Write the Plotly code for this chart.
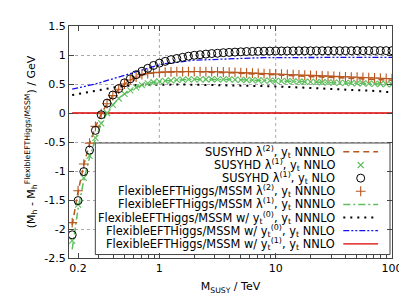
import plotly.graph_objects as go

# ---------------- data ----------------
msusy = [0.178, 0.200, 0.224, 0.251, 0.282, 0.316, 0.355, 0.398, 0.447, 0.501,
         0.562, 0.631, 0.708, 0.794, 0.891, 1.000, 1.122, 1.259, 1.413, 1.585,
         1.778, 1.995, 2.239, 2.512, 2.818, 3.162, 3.548, 3.981, 4.467, 5.012,
         5.623, 6.310, 7.079, 7.943, 8.913, 10.00, 11.22, 12.59, 14.13, 15.85,
         17.78, 19.95, 22.39, 25.12, 28.18, 31.62, 35.48, 39.81, 44.67, 50.12,
         56.23, 63.10, 70.79, 79.43, 89.13, 100.0]

susyhd_l2_nnnlo = [-1.93, -1.36, -0.89, -0.53, -0.24, -0.02, 0.16, 0.30, 0.41, 0.50,
                   0.57, 0.62, 0.66, 0.68, 0.695, 0.70, 0.705, 0.71, 0.712, 0.713,
                   0.713, 0.712, 0.71, 0.708, 0.705, 0.702, 0.698, 0.694, 0.69, 0.685,
                   0.68, 0.675, 0.67, 0.665, 0.66, 0.655, 0.65, 0.645, 0.64, 0.635,
                   0.63, 0.625, 0.62, 0.615, 0.61, 0.605, 0.60, 0.596, 0.592, 0.588,
                   0.584, 0.58, 0.576, 0.572, 0.568, 0.565]

susyhd_l1_nnlo = [-2.20, -1.58, -1.12, -0.74, -0.43, -0.18, 0.00, 0.14, 0.25, 0.33,
                  0.39, 0.44, 0.48, 0.51, 0.53, 0.545, 0.555, 0.563, 0.57, 0.575,
                  0.578, 0.58, 0.581, 0.582, 0.582, 0.581, 0.58, 0.578, 0.575, 0.572,
                  0.569, 0.566, 0.563, 0.56, 0.557, 0.554, 0.551, 0.548, 0.545, 0.542,
                  0.539, 0.536, 0.533, 0.53, 0.527, 0.524, 0.521, 0.518, 0.515, 0.512,
                  0.509, 0.506, 0.503, 0.50, 0.497, 0.494]

susyhd_l1_nlo = [-2.10, -1.51, -1.01, -0.64, -0.30, -0.03, 0.17, 0.31, 0.42, 0.52,
                 0.59, 0.66, 0.72, 0.77, 0.82, 0.86, 0.89, 0.92, 0.94, 0.96,
                 0.98, 0.995, 1.005, 1.015, 1.025, 1.03, 1.04, 1.045, 1.05, 1.055,
                 1.06, 1.062, 1.064, 1.066, 1.068, 1.07, 1.07, 1.071, 1.071, 1.072,
                 1.072, 1.072, 1.073, 1.073, 1.073, 1.074, 1.074, 1.074, 1.074, 1.075,
                 1.075, 1.075, 1.075, 1.075, 1.075, 1.075]

feft_l2_nnnlo = [-1.89, -1.34, -0.88, -0.52, -0.23, -0.01, 0.16, 0.30, 0.41, 0.50,
                 0.57, 0.62, 0.66, 0.68, 0.695, 0.70, 0.705, 0.71, 0.712, 0.714,
                 0.715, 0.715, 0.715, 0.714, 0.712, 0.71, 0.707, 0.703, 0.70, 0.696,
                 0.692, 0.688, 0.684, 0.68, 0.676, 0.672, 0.668, 0.664, 0.66, 0.656,
                 0.652, 0.648, 0.644, 0.64, 0.636, 0.632, 0.628, 0.624, 0.62, 0.616,
                 0.612, 0.608, 0.604, 0.60, 0.596, 0.592]

feft_l1_nnnlo = [-2.35, -1.65, -1.16, -0.77, -0.45, -0.19, 0.00, 0.14, 0.25, 0.33,
                 0.39, 0.44, 0.48, 0.51, 0.53, 0.545, 0.555, 0.563, 0.57, 0.575,
                 0.578, 0.58, 0.581, 0.582, 0.582, 0.581, 0.58, 0.578, 0.575, 0.572,
                 0.569, 0.566, 0.563, 0.56, 0.557, 0.554, 0.551, 0.548, 0.545, 0.542,
                 0.539, 0.536, 0.533, 0.53, 0.527, 0.524, 0.521, 0.518, 0.515, 0.512,
                 0.509, 0.506, 0.503, 0.50, 0.497, 0.494]

feft_yt0_nnnlo = [0.31, 0.33, 0.345, 0.36, 0.38, 0.40, 0.42, 0.44, 0.455, 0.465,
                  0.475, 0.48, 0.485, 0.488, 0.49, 0.49, 0.49, 0.49, 0.49, 0.49,
                  0.489, 0.488, 0.487, 0.486, 0.485, 0.484, 0.482, 0.48, 0.478, 0.476,
                  0.474, 0.471, 0.468, 0.465, 0.462, 0.459, 0.455, 0.451, 0.447, 0.443,
                  0.439, 0.435, 0.431, 0.427, 0.423, 0.418, 0.413, 0.408, 0.403, 0.398,
                  0.392, 0.386, 0.38, 0.373, 0.366, 0.355]

feft_yt0_nnlo = [0.41, 0.43, 0.45, 0.47, 0.50, 0.53, 0.56, 0.59, 0.63, 0.66,
                 0.69, 0.72, 0.75, 0.78, 0.805, 0.83, 0.85, 0.865, 0.88, 0.89,
                 0.90, 0.91, 0.915, 0.92, 0.925, 0.93, 0.935, 0.94, 0.943, 0.946,
                 0.948, 0.95, 0.952, 0.954, 0.955, 0.956, 0.957, 0.957, 0.958, 0.958,
                 0.958, 0.959, 0.959, 0.959, 0.96, 0.96, 0.96, 0.96, 0.96, 0.96,
                 0.96, 0.96, 0.96, 0.96, 0.96, 0.96]

feft_yt1_nnlo = [0.0] * len(msusy)

x_ticks = [0.2, 1, 10, 100]
x_ticktext = ["0.2", "1", "10", "100"]
x_minor = [0.3, 0.4, 0.5, 0.6, 0.7, 0.8, 0.9, 2, 3, 4, 5, 6, 7, 8, 9,
           20, 30, 40, 50, 60, 70, 80, 90]
y_ticks = [-2.5, -2, -1.5, -1, -0.5, 0, 0.5, 1, 1.5]
y_ticktext = ["-2.5", "-2", "-1.5", "-1", "-0.5", "0", "0.5", "1", "1.5"]

labels = [
    "SUSYHD λ<sup>(2)</sup>, y<sub>t</sub> NNNLO",
    "SUSYHD λ<sup>(1)</sup>, y<sub>t</sub> NNLO",
    "SUSYHD λ<sup>(1)</sup>, y<sub>t</sub> NLO",
    "FlexibleEFTHiggs/MSSM λ<sup>(2)</sup>, y<sub>t</sub> NNNLO",
    "FlexibleEFTHiggs/MSSM λ<sup>(1)</sup>, y<sub>t</sub> NNNLO",
    "FlexibleEFTHiggs/MSSM w/ y<sub>t</sub><sup>(0)</sup>, y<sub>t</sub> NNNLO",
    "FlexibleEFTHiggs/MSSM w/ y<sub>t</sub><sup>(0)</sup>, y<sub>t</sub> NNLO",
    "FlexibleEFTHiggs/MSSM w/ y<sub>t</sub><sup>(1)</sup>, y<sub>t</sub> NNLO",
]

# ---------------- styles ----------------
BROWN = "#b8561e"
GREEN = "#5cbf5c"
BLUE = "#1010f0"
RED = "#dd0000"
FONT = "DejaVu Sans"

styles = [
    dict(mode="lines", line=dict(color=BROWN, width=1.5, dash="6px,4px")),
    dict(mode="markers", marker=dict(symbol="x-thin-open", size=6, color=GREEN,
                                     line=dict(color=GREEN, width=1.1))),
    dict(mode="markers", marker=dict(symbol="circle-open", size=8, color="black",
                                     line=dict(color="black", width=1))),
    dict(mode="markers", marker=dict(symbol="cross-thin-open", size=7, color=BROWN,
                                     line=dict(color=BROWN, width=1.1))),
    dict(mode="lines", line=dict(color=GREEN, width=1.5, dash="7px,3px,2px,3px")),
    dict(mode="lines", line=dict(color="black", width=2, dash="2px,5px")),
    dict(mode="lines", line=dict(color=BLUE, width=1.3, dash="6px,2px,2px,2px,2px,2px")),
    dict(mode="lines", line=dict(color=RED, width=1.3)),
]
series = [susyhd_l2_nnnlo, susyhd_l1_nnlo, susyhd_l1_nlo, feft_l2_nnnlo,
          feft_l1_nnnlo, feft_yt0_nnnlo, feft_yt0_nnlo, feft_yt1_nnlo]

fig = go.Figure()
draw_order = [7, 6, 5, 4, 0, 1, 3, 2]
for i in draw_order:
    fig.add_trace(go.Scatter(x=msusy, y=series[i], name=labels[i], showlegend=False,
                             hoverinfo="skip", **styles[i]))

# ---------------- manual gnuplot-style key (pixel overlay axes) ----------------
L, R, T, B = 61, 386, 15, 250
box_x0, box_x1, box_y0, box_y1 = 87.5, 384, 133.5, 246.5
fig.add_trace(go.Scatter(x=[box_x0, box_x1, box_x1, box_x0, box_x0],
                         y=[box_y0, box_y0, box_y1, box_y1, box_y0],
                         mode="lines", fill="toself", fillcolor="white",
                         line=dict(color="#444", width=1), xaxis="x2", yaxis="y2",
                         showlegend=False, hoverinfo="skip"))
row0, drow = 142.5, 13.3
s_x0, s_x1, s_xm = 337, 372, 354.5
for i in range(8):
    yy = row0 + drow * i
    st = styles[i]
    if st["mode"] == "lines":
        fig.add_trace(go.Scatter(x=[s_x0, s_x1], y=[yy, yy], mode="lines", line=st["line"],
                                 xaxis="x2", yaxis="y2", showlegend=False, hoverinfo="skip"))
    else:
        fig.add_trace(go.Scatter(x=[s_xm], y=[yy], mode="markers", marker=st["marker"],
                                 xaxis="x2", yaxis="y2", showlegend=False, hoverinfo="skip"))
    fig.add_annotation(x=331, y=yy, xref="x2", yref="y2", text=labels[i], showarrow=False,
                       xanchor="right", yanchor="middle",
                       font=dict(family=FONT, size=11.4, color="black"))

# vertical grid lines at major decades
for gx in [1, 10]:
    fig.add_shape(type="line", x0=gx, x1=gx, y0=-2.5, y1=1.5, xref="x", yref="y",
                  line=dict(color="#aaaaaa", width=1, dash="dot"), layer="below")

axis_col = "#444444"
fig.update_layout(
    width=407, height=305, autosize=False,
    margin=dict(l=L, r=407 - R, t=T, b=305 - B),
    paper_bgcolor="white", plot_bgcolor="white",
    font=dict(family=FONT, size=11, color="black"),
    xaxis=dict(type="log", range=[-0.777, 2.0], tickvals=x_ticks, ticktext=x_ticktext,
               ticks="inside", ticklen=5, tickcolor=axis_col, showline=True,
               linecolor=axis_col, linewidth=1, mirror="allticks", showgrid=False,
               zeroline=False, tickfont=dict(size=11),
               minor=dict(tickvals=x_minor, ticks="inside", ticklen=3,
                          tickcolor=axis_col, showgrid=False),
               title=dict(text="M<sub>SUSY</sub> / TeV", font=dict(size=11), standoff=8)),
    yaxis=dict(range=[-2.5, 1.5], tickvals=y_ticks, ticktext=y_ticktext,
               ticks="inside", ticklen=5, tickcolor=axis_col, showline=True,
               linecolor=axis_col, linewidth=1, mirror="allticks", showgrid=True,
               gridcolor="#aaaaaa", griddash="dot", gridwidth=1, zeroline=False,
               tickfont=dict(size=11),
               title=dict(text="(M<sub>h</sub> - M<sub>h</sub><sup>FlexibleEFTHiggs/MSSM</sup>) / GeV",
                          font=dict(size=11), standoff=6)),
    xaxis2=dict(overlaying="x", anchor="y2", range=[L, R], visible=False, fixedrange=True),
    yaxis2=dict(overlaying="y", anchor="x2", range=[B, T], visible=False, fixedrange=True),
)

fig.write_html("out.html")
